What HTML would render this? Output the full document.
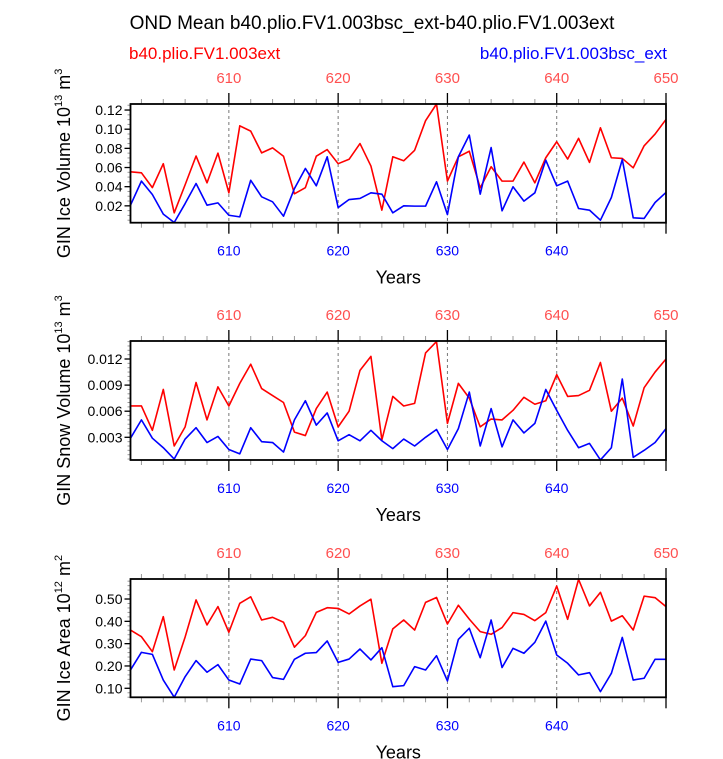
<!DOCTYPE html>
<html><head><meta charset="utf-8"><style>
body{margin:0;background:#fff}
svg{display:block;font-family:"Liberation Sans",Arial,sans-serif}
</style></head><body>
<svg id="c" width="723" height="759" viewBox="0 0 723 759" xmlns="http://www.w3.org/2000/svg">
<text x="372" y="29" text-anchor="middle" font-size="19" fill="#000">OND Mean b40.plio.FV1.003bsc_ext-b40.plio.FV1.003ext</text>
<text x="129" y="59" font-size="17" fill="#ff0000">b40.plio.FV1.003ext</text>
<text x="667" y="59" text-anchor="end" font-size="17" fill="#0000ff">b40.plio.FV1.003bsc_ext</text>
</svg>
<script>
const years = [];
for (let y = 601; y <= 650; y++) years.push(y);
const xTickLabels = [610, 620, 630, 640, 650];

const iceVolRed = [0.0555,0.0545,0.039,0.064,0.0127,0.042,0.072,0.044,0.075,0.0336,0.1035,0.098,0.0753,0.0805,0.0718,0.0326,0.039,0.0718,0.0787,0.064,0.0686,0.085,0.0615,0.0155,0.0712,0.067,0.078,0.1089,0.1263,0.0458,0.0712,0.077,0.0388,0.0608,0.0458,0.0458,0.0657,0.044,0.0702,0.0869,0.0688,0.0904,0.0653,0.1015,0.0702,0.0695,0.0597,0.0827,0.0949,0.1102];
const iceVolBlue = [0.0207,0.0458,0.0318,0.0113,0.0026,0.0224,0.0433,0.0207,0.0231,0.0102,0.0085,0.0467,0.0294,0.0242,0.0092,0.038,0.059,0.0409,0.0712,0.0182,0.0266,0.0277,0.0336,0.0322,0.0127,0.02,0.0197,0.0197,0.0451,0.0109,0.0712,0.0939,0.0322,0.0808,0.0148,0.0399,0.0249,0.0336,0.0677,0.0409,0.0458,0.0172,0.0155,0.005,0.0287,0.0684,0.0075,0.0068,0.0235,0.034];
const iceVolTicks = [0.02,0.04,0.06,0.08,0.10,0.12];

const snowRed = [0.0066,0.0066,0.0038,0.0085,0.002,0.0042,0.0093,0.005,0.0088,0.0066,0.0092,0.0114,0.0086,0.0078,0.007,0.0036,0.0032,0.0063,0.0082,0.0042,0.006,0.0107,0.0123,0.0027,0.0077,0.0066,0.0069,0.0127,0.014,0.0046,0.0092,0.0075,0.0042,0.0051,0.005,0.0061,0.0076,0.0068,0.0072,0.0102,0.0077,0.0078,0.0084,0.0116,0.006,0.0075,0.0043,0.0087,0.0105,0.012];
const snowBlue = [0.0029,0.005,0.0029,0.0018,0.0005,0.0028,0.0041,0.0024,0.0031,0.0016,0.0011,0.0041,0.0025,0.0024,0.0013,0.005,0.0072,0.0044,0.0058,0.0026,0.0033,0.0026,0.0038,0.0026,0.0017,0.0028,0.002,0.003,0.0039,0.0016,0.004,0.0082,0.002,0.0063,0.0019,0.005,0.0035,0.0046,0.0085,0.0061,0.0038,0.0018,0.0023,0.0004,0.0018,0.0097,0.0007,0.0015,0.0024,0.004];
const snowTicks = [0.003,0.006,0.009,0.012];

const areaRed = [0.361,0.331,0.264,0.421,0.182,0.33,0.496,0.384,0.466,0.351,0.481,0.51,0.406,0.418,0.396,0.284,0.336,0.44,0.461,0.458,0.433,0.469,0.499,0.212,0.366,0.406,0.361,0.485,0.507,0.388,0.472,0.41,0.354,0.342,0.372,0.439,0.431,0.403,0.439,0.558,0.409,0.588,0.469,0.53,0.401,0.425,0.361,0.513,0.506,0.466];
const areaBlue = [0.182,0.261,0.252,0.137,0.06,0.152,0.224,0.172,0.206,0.137,0.119,0.231,0.224,0.148,0.14,0.23,0.257,0.26,0.312,0.216,0.231,0.276,0.227,0.282,0.107,0.112,0.197,0.182,0.246,0.133,0.319,0.369,0.237,0.406,0.193,0.279,0.257,0.306,0.401,0.249,0.212,0.16,0.17,0.085,0.167,0.328,0.137,0.145,0.23,0.23];
const areaTicks = [0.10,0.20,0.30,0.40,0.50];

const svg = document.getElementById('c');
const NS = 'http://www.w3.org/2000/svg';
function mk(tag, attrs, parent) {
  const e = document.createElementNS(NS, tag);
  for (const k in attrs) e.setAttribute(k, attrs[k]);
  (parent || svg).appendChild(e);
  return e;
}
const L = 130.5, R = 666;
const xMin = 601, xMax = 650;
function xs(v) { return L + (v - xMin) / (xMax - xMin) * (R - L); }

function panel(p) {
  const g = mk('g', {});
  
  
  const ys = v => p.bot - (v - p.yMin) / (p.yMax - p.yMin) * (p.bot - p.top);
  // dashed grid
  [610, 620, 630, 640].forEach(yr => {
    const l = mk('line', {x1: xs(yr), x2: xs(yr), y1: p.top, y2: p.bot, stroke: '#777', 'stroke-width': 1, 'stroke-dasharray': '3,3'}, g);
    
    
  });
  // x ticks top and bottom
  for (let yr = 602; yr <= 650; yr += 2) {
    const major = yr % 10 === 0;
    const len = major ? 11 : 5;
    const col = major ? '#000' : '#999';
    mk('line', {x1: xs(yr), x2: xs(yr), y1: p.top, y2: p.top - len, stroke: col, 'stroke-width': major ? 1.3 : 1}, g);
    mk('line', {x1: xs(yr), x2: xs(yr), y1: p.bot, y2: p.bot + len, stroke: col, 'stroke-width': major ? 1.3 : 1}, g);
  }
  xTickLabels.forEach(v => {
    const t = mk('text', {x: xs(v), y: p.top - 21, 'text-anchor': 'middle', 'font-size': 15, fill: '#ff5050'}, g);
    t.textContent = v;
    
    
    if (v < 650) {
      const b = mk('text', {x: xs(v), y: p.bot + 33, 'text-anchor': 'middle', 'font-size': 14, fill: '#0000ff'}, g);
      b.textContent = v;
      
      
    }
  });
  // y minor ticks
  for (let v = Math.ceil(p.yMin / p.minor) * p.minor; v <= p.yMax + 1e-9; v += p.minor) {
    mk('line', {x1: L, x2: L - 3, y1: ys(v), y2: ys(v), stroke: '#999', 'stroke-width': 1}, g);
  }
  p.ticks.forEach(v => {
    mk('line', {x1: L, x2: L - 6, y1: ys(v), y2: ys(v), stroke: '#000', 'stroke-width': 1.3}, g);
    const t = mk('text', {x: L - 8, y: ys(v) + 5, 'text-anchor': 'end', 'font-size': 14, fill: '#000'}, g);
    t.textContent = v.toFixed(p.dec);
    
    
  });
  // series
  [[p.red, '#ff0000', 'red-series-line'], [p.blue, '#0000ff', 'blue-series-line']].forEach(([arr, col, nm]) => {
    const d = arr.map((v, i) => (i ? 'L' : 'M') + xs(years[i]).toFixed(2) + ',' + ys(v).toFixed(2)).join('');
    const pl = mk('path', {d: d, fill: 'none', stroke: col, 'stroke-width': 1.6, 'stroke-linejoin': 'round'}, g);
    
    
  });
  const box = mk('rect', {x: L, y: p.top, width: R - L, height: p.bot - p.top, fill: 'none', stroke: '#000', 'stroke-width': 1.8}, g);
  
  
  const yt = mk('text', {transform: 'translate(70,' + ((p.top + p.bot) / 2) + ') rotate(-90)', 'text-anchor': 'middle', 'font-size': 18, fill: '#000'}, g);
  yt.innerHTML = p.title + ' 10<tspan dy="-8" font-size="11">' + p.exp + '</tspan><tspan dy="8"> m</tspan><tspan dy="-8" font-size="11">' + p.unitExp + '</tspan>';
  
  
  const xt = mk('text', {x: (L + R) / 2, y: p.bot + 61, 'text-anchor': 'middle', 'font-size': 18, fill: '#000'}, g);
  xt.textContent = 'Years';
  
  
}

panel({name: 'ice-volume', top: 104, bot: 222.7, yMin: 0.0024, yMax: 0.1263, ticks: iceVolTicks, minor: 0.005, dec: 2, red: iceVolRed, blue: iceVolBlue, title: 'GIN Ice Volume', exp: '13', unitExp: '3'});
panel({name: 'snow-volume', top: 341, bot: 460, yMin: 0.00039, yMax: 0.01407, ticks: snowTicks, minor: 0.0005, dec: 3, red: snowRed, blue: snowBlue, title: 'GIN Snow Volume', exp: '13', unitExp: '3'});
panel({name: 'ice-area', top: 579, bot: 697.3, yMin: 0.0596, yMax: 0.5897, ticks: areaTicks, minor: 0.02, dec: 2, red: areaRed, blue: areaBlue, title: 'GIN Ice Area', exp: '12', unitExp: '2'});
</script>
</body></html>
